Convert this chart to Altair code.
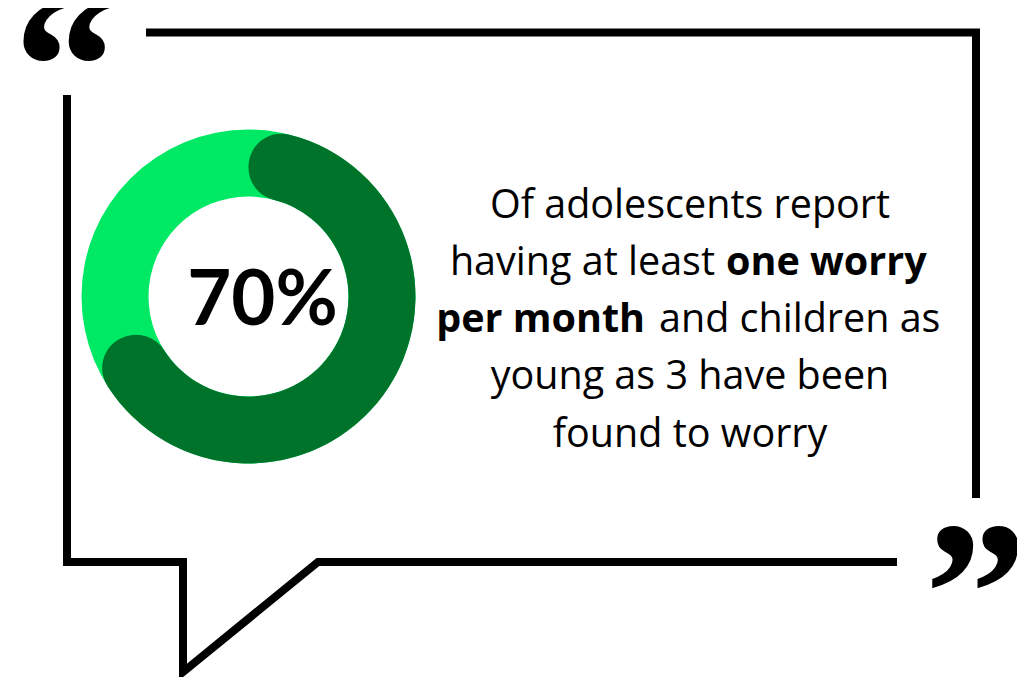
import altair as alt
import pandas as pd

# ---------------- data ----------------
share_labels = ["worry at least monthly", "no monthly worry"]
share_values = [70, 30]
share_total = 100
big_label = "70%"

text_lines_plain = ["Of adolescents report", "young as 3 have been", "found to worry"]
line2_plain = "having at least"
line2_bold = "one worry"
line3_bold = "per month"
line3_plain = "and children as"
quote_open = "\u201c"
quote_close = "\u201d"

# ---------------- layout (screen pixels) ----------------
W, H = 1009, 669
xs = alt.Scale(domain=[8, 8 + W], nice=False, zero=False)
ys = alt.Scale(domain=[8, 8 + H], nice=False, zero=False, reverse=True)
ts = alt.Scale(domain=[0, share_total], range=[0, 6.283185307179586], zero=True, nice=False)

LIGHT = "#00E965"
DARK = "#00732B"
CX, CY = 248.5, 296.5

frame_paths = {
    "top": [(146, 32.5), (976, 32.5), (976, 498)],
    "bottom": [(67, 95), (67, 562), (183, 562), (183, 672), (318, 562), (897, 562)],
}
rows = []
for name, pts in frame_paths.items():
    for i, (x, y) in enumerate(pts):
        rows.append({"path": name, "i": i, "x": x, "y": y})
frame_df = pd.DataFrame(rows)

frame = alt.Chart(frame_df).mark_line(
    color="black", strokeWidth=8, strokeJoin="miter", strokeCap="butt"
).encode(
    x=alt.X("x:Q", scale=xs, axis=None),
    y=alt.Y("y:Q", scale=ys, axis=None),
    detail="path:N",
    order="i:Q",
)

ring_df = pd.DataFrame({"label": ["all"], "start": [0], "end": [share_total]})
ring = alt.Chart(ring_df).mark_arc(innerRadius=100, outerRadius=167, color=LIGHT).encode(
    theta=alt.Theta("start:Q", scale=ts),
    theta2="end:Q",
    x=alt.X(datum=CX, scale=xs, axis=None),
    y=alt.Y(datum=CY, scale=ys, axis=None),
)

dark_df = pd.DataFrame({"label": [share_labels[0]], "start": [0], "end": [share_values[0]]})
dark = alt.Chart(dark_df).mark_arc(
    innerRadius=100, outerRadius=167, cornerRadius=33, color=DARK
).encode(
    theta=alt.Theta("start:Q", scale=ts),
    theta2="end:Q",
    x=alt.X(datum=CX, scale=xs, axis=None),
    y=alt.Y(datum=CY, scale=ys, axis=None),
)


def text_layer(items, align, weight, size, font="Open Sans", color="#000000", baseline="alphabetic"):
    df = pd.DataFrame(items, columns=["t", "x", "y"])
    return alt.Chart(df).mark_text(
        align=align, baseline=baseline, fontWeight=weight, fontSize=size, font=font, color=color
    ).encode(
        x=alt.X("x:Q", scale=xs, axis=None),
        y=alt.Y("y:Q", scale=ys, axis=None),
        text="t:N",
    )


FS = 39.5
TX = 690
center_plain = text_layer(
    [(text_lines_plain[0], TX, 218), (text_lines_plain[1], TX, 389), (text_lines_plain[2], TX, 447)],
    "center", "normal", FS,
)
right_plain = text_layer([(line2_plain, 715, 275)], "right", "normal", FS)
left_bold = text_layer([(line2_bold, 726, 275)], "left", "bold", FS)
right_bold = text_layer([(line3_bold, 645, 332)], "right", "bold", FS)
left_plain = text_layer([(line3_plain, 659, 332)], "left", "normal", FS)

big = text_layer([(big_label, 262.5, 325)], "center", "bold", 76, font="Lato")
quotes = text_layer([(quote_open, 65, 136), (quote_close, 976, 663)], "center", "bold", 206,
                    font="Liberation Serif")

chart = alt.layer(
    frame, ring, dark, big, center_plain, right_plain, left_bold, right_bold, left_plain, quotes
).properties(
    width=W, height=H, padding=0, autosize=alt.AutoSizeParams(type="none")
).configure_view(stroke=None)

chart.save("out.html", embed_options={"renderer": "svg", "actions": False})
